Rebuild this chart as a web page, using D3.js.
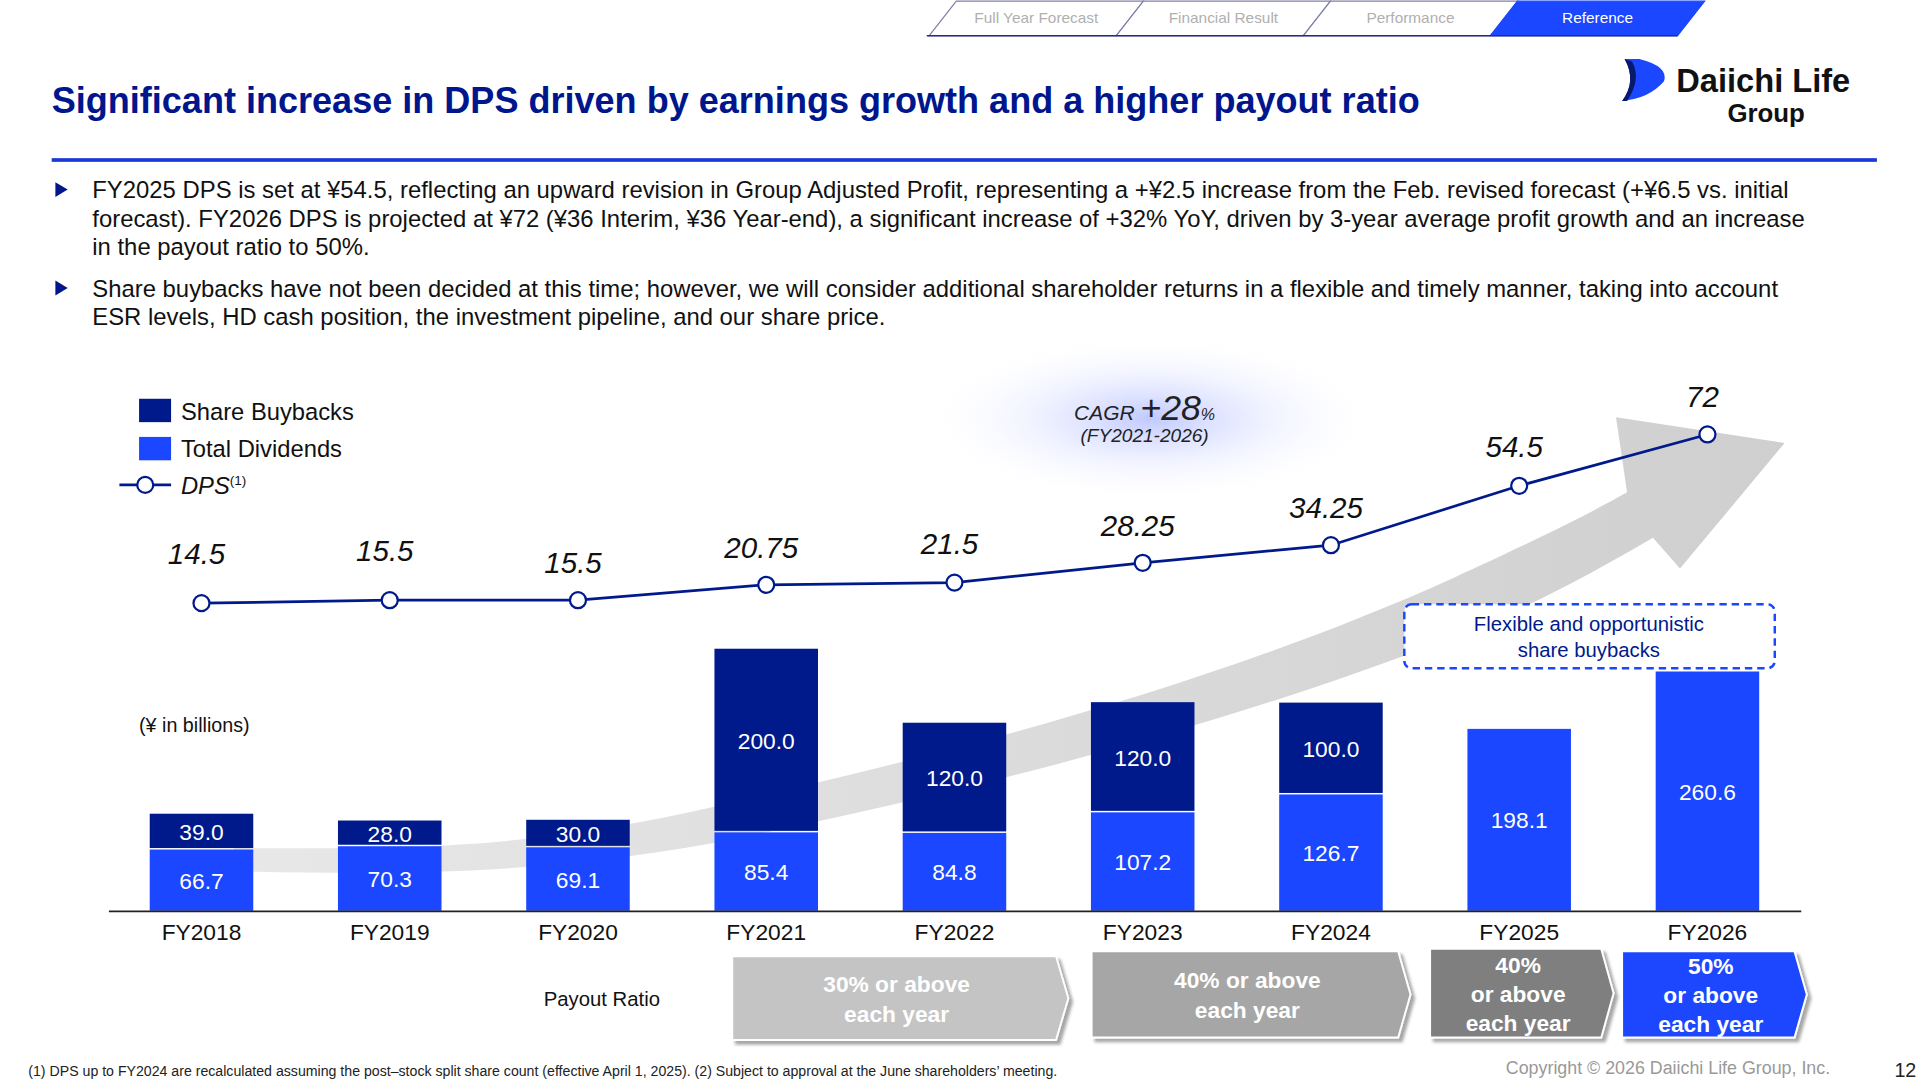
<!DOCTYPE html>
<html><head><meta charset="utf-8">
<script src="https://cdn.jsdelivr.net/npm/d3@7"></script>
<style>body{margin:0;background:#fff}svg{display:block;font-family:Arial,"Liberation Sans",sans-serif}</style>
</head><body>
<svg id="c" width="1920" height="1080"></svg>
<script>
const categories=["FY2018","FY2019","FY2020","FY2021","FY2022","FY2023","FY2024","FY2025","FY2026"];
const dividends=[66.7,70.3,69.1,85.4,84.8,107.2,126.7,198.1,260.6];
const buybacks=[39.0,28.0,30.0,200.0,120.0,120.0,100.0,0,0];
const dps=[14.5,15.5,15.5,20.75,21.5,28.25,34.25,54.5,72];
const dpsLabels=["14.5","15.5","15.5","20.75","21.5","28.25","34.25","54.5","72"];
const payout=[{t:["30% or above","each year"],c:"#c4c4c4"},{t:["40% or above","each year"],c:"#a6a6a6"},{t:["40%","or above","each year"],c:"#7f7f7f"},{t:["50%","or above","each year"],c:"#1a47ff"}];
const tabs=["Full Year Forecast","Financial Result","Performance","Reference"];

const NAVY="#001a8c",BLUE="#1a47ff",TITLE="#00168c";
const svg=d3.select("#c");
const defs=svg.append("defs");
const rg=defs.append("radialGradient").attr("id","glow");
rg.append("stop").attr("offset","0%").attr("stop-color","#b9c3ff").attr("stop-opacity",0.9);
rg.append("stop").attr("offset","100%").attr("stop-color","#ffffff").attr("stop-opacity",0);
const lg=defs.append("linearGradient").attr("id","arr").attr("x1","0").attr("x2","1");
lg.append("stop").attr("offset","0%").attr("stop-color","#e8e8e8");
lg.append("stop").attr("offset","100%").attr("stop-color","#cfcfcf");
const sh=defs.append("filter").attr("id","sh").attr("x","-10%").attr("y","-10%").attr("width","130%").attr("height","140%");
sh.append("feDropShadow").attr("dx",3).attr("dy",3).attr("stdDeviation",1.5).attr("flood-color","#000").attr("flood-opacity",0.35);

const g=svg.append("g").attr("transform",`scale(${1920/1560})`);

// nav tabs
const tw=152,tx0=755;
tabs.forEach((t,i)=>{
  const x=tx0+i*tw, last=i===tabs.length-1;
  g.append("path").attr("d",`M${x},29 L${x+22},1 L${x+tw+22},1 L${x+tw},29 Z`)
   .attr("fill",last?BLUE:"#fff").attr("stroke",last?BLUE:"#7f7fa8").attr("stroke-width",1);
  g.append("text").attr("x",x+tw/2+11).attr("y",19).attr("text-anchor","middle").attr("font-size",12.5)
   .attr("fill",last?"#fff":"#b0b0b0").text(t);
});
g.append("path").attr("d",`M${tx0-2},29 L${tx0+4*tw},29`).attr("stroke","#2a2a80").attr("stroke-width",1.2);

// title
g.append("text").attr("x",42).attr("y",92).attr("font-size",29.3).attr("font-weight","bold").attr("fill",TITLE)
 .text("Significant increase in DPS driven by earnings growth and a higher payout ratio");
g.append("rect").attr("x",42).attr("y",128.5).attr("width",1483).attr("height",3).attr("fill","#1a3ad8");

// logo
g.append("path").attr("d","M1320,48 L1332,48 Q1356,54 1352,66 Q1340,80 1318,82 Q1330,66 1320,48 Z").attr("fill",BLUE);
g.append("path").attr("d","M1320,48 Q1330,66 1318,82 L1322,82 Q1334,64 1326,50 Z").attr("fill","#0a1a6a");
g.append("text").attr("x",1362).attr("y",75).attr("font-size",26.5).attr("font-weight","bold").attr("fill","#111").text("Daiichi Life");
g.append("text").attr("x",1435).attr("y",99).attr("text-anchor","middle").attr("font-size",21).attr("font-weight","bold").attr("fill","#111").text("Group");

// bullets
const bul=[["FY2025 DPS is set at ¥54.5, reflecting an upward revision in Group Adjusted Profit, representing a +¥2.5 increase from the Feb. revised forecast (+¥6.5 vs. initial","forecast). FY2026 DPS is projected at ¥72 (¥36 Interim, ¥36 Year-end), a significant increase of +32% YoY, driven by 3-year average profit growth and an increase","in the payout ratio to 50%."],["Share buybacks have not been decided at this time; however, we will consider additional shareholder returns in a flexible and timely manner, taking into account","ESR levels, HD cash position, the investment pipeline, and our share price."]];
const by=[161,241];
bul.forEach((b,i)=>{
  g.append("path").attr("d",`M45,${by[i]-13} L55,${by[i]-7} L45,${by[i]-1} Z`).attr("fill",TITLE);
  b.forEach((l,j)=>g.append("text").attr("x",75).attr("y",by[i]+j*23.3).attr("font-size",19.4).attr("fill","#111").text(l));
});

// glow + CAGR
g.append("ellipse").attr("cx",935).attr("cy",340).attr("rx",185).attr("ry",68).attr("fill","url(#glow)");
const ct=g.append("text").attr("x",930).attr("y",341).attr("text-anchor","middle").attr("font-style","italic").attr("fill","#222");
ct.append("tspan").attr("font-size",17).text("CAGR ");
ct.append("tspan").attr("font-size",29).text("+28");
ct.append("tspan").attr("font-size",13).text("%");
g.append("text").attr("x",930).attr("y",359).attr("text-anchor","middle").attr("font-style","italic").attr("font-size",15.5).attr("fill","#222").text("(FY2021-2026)");

// scales
const x=d3.scaleBand().domain(categories).range([88,1463]).paddingInner(0.45).paddingOuter(0.22);
const y=d3.scaleLinear().domain([0,300]).range([740,740-223.8]);
const yd=d3.scaleLinear().domain([0,72]).range([524.6,353]);
const cx=c=>x(c)+x.bandwidth()/2;

// big arrow (decorative)
g.append("path").attr("d","M190,689 C330,690 420,690 560,660 C760,615 980,560 1180,470 C1250,438 1290,418 1322,400 L1313,339 L1450,360 L1365,462 L1343,437 C1300,462 1250,490 1200,510 C1000,590 780,645 580,685 C430,712 320,710 190,708 Z")
 .attr("fill","url(#arr)");

// bars
const data=categories.map((c,i)=>({c,d:dividends[i],b:buybacks[i]}));
const bw=x.bandwidth();
data.forEach(r=>{
  g.append("rect").attr("x",x(r.c)).attr("y",y(r.d)).attr("width",bw).attr("height",y(0)-y(r.d)).attr("fill",BLUE);
  g.append("text").attr("x",cx(r.c)).attr("y",(y(0)+y(r.d))/2+7).attr("text-anchor","middle").attr("font-size",18.5).attr("fill","#fff").text(r.d.toFixed(1));
  if(r.b>0){
    g.append("rect").attr("x",x(r.c)).attr("y",y(r.d+r.b)).attr("width",bw).attr("height",y(r.d)-y(r.d+r.b)-1.2).attr("fill",NAVY);
    g.append("text").attr("x",cx(r.c)).attr("y",(y(r.d)+y(r.d+r.b))/2+7).attr("text-anchor","middle").attr("font-size",18.5).attr("fill","#fff").text(r.b.toFixed(1));
  }
});
// axis
const ax=g.append("g").attr("transform","translate(0,740)").call(d3.axisBottom(x).tickSize(0).tickPadding(11));
ax.select(".domain").attr("stroke","#222").attr("stroke-width",1.3);
ax.selectAll("text").attr("font-size",18.5).attr("fill","#111").attr("font-family","Arial,'Liberation Sans',sans-serif");

// dashed box
g.append("rect").attr("x",1141).attr("y",491).attr("width",301).attr("height",52).attr("rx",6).attr("fill","#fff").attr("stroke",BLUE).attr("stroke-width",2).attr("stroke-dasharray","6,4");
g.append("text").attr("x",1291).attr("y",513).attr("text-anchor","middle").attr("font-size",16.5).attr("fill",NAVY).text("Flexible and opportunistic");
g.append("text").attr("x",1291).attr("y",534).attr("text-anchor","middle").attr("font-size",16.5).attr("fill",NAVY).text("share buybacks");

// DPS line
const line=d3.line().x((d,i)=>cx(categories[i])).y(d=>yd(d));
g.append("path").attr("d",line(dps)).attr("fill","none").attr("stroke",NAVY).attr("stroke-width",2.2);
g.selectAll(".pt").data(dps).join("circle").attr("cx",(d,i)=>cx(categories[i])).attr("cy",d=>yd(d)).attr("r",6.5).attr("fill","#fff").attr("stroke",NAVY).attr("stroke-width",1.8);
const lOff=[40,40,30,30,31,30,30,31,30];
g.selectAll(".dl").data(dps).join("text").attr("x",(d,i)=>cx(categories[i])-4).attr("y",(d,i)=>yd(d)-lOff[i]+8).attr("text-anchor","middle")
 .attr("font-size",24).attr("font-style","italic").attr("fill","#111").text((d,i)=>dpsLabels[i]);

// legend
g.append("rect").attr("x",113).attr("y",324).attr("width",26).attr("height",19).attr("fill",NAVY);
g.append("text").attr("x",147).attr("y",341).attr("font-size",19.3).attr("fill","#111").text("Share Buybacks");
g.append("rect").attr("x",113).attr("y",355).attr("width",26).attr("height",19).attr("fill",BLUE);
g.append("text").attr("x",147).attr("y",371).attr("font-size",19.3).attr("fill","#111").text("Total Dividends");
g.append("line").attr("x1",97).attr("x2",139).attr("y1",394).attr("y2",394).attr("stroke",NAVY).attr("stroke-width",2.2);
g.append("circle").attr("cx",118).attr("cy",394).attr("r",6.5).attr("fill","#fff").attr("stroke",NAVY).attr("stroke-width",1.8);
const dt=g.append("text").attr("x",147).attr("y",401).attr("font-size",19.3).attr("font-style","italic").attr("fill","#111");
dt.append("tspan").text("DPS");dt.append("tspan").attr("font-size",11).attr("font-style","normal").attr("dy",-7).text("(1)");
g.append("text").attr("x",113).attr("y",595).attr("font-size",16).attr("fill","#111").text("(¥ in billions)");

// payout ratio
g.append("text").attr("x",489).attr("y",817).attr("text-anchor","middle").attr("font-size",16.5).attr("fill","#111").text("Payout Ratio");
const pbox=[[595,777,868,845],[887,773,1146,843],[1162,771,1311,843],[1318,773,1468,843]];
payout.forEach((p,i)=>{
  const [x0,y0,x1,y1]=pbox[i], tip=10, ym=(y0+y1)/2;
  g.append("path").attr("d",`M${x0},${y0} L${x1-tip},${y0} L${x1},${ym} L${x1-tip},${y1} L${x0},${y1} Z`)
   .attr("fill",p.c).attr("stroke","#fff").attr("stroke-width",1.5).attr("filter","url(#sh)");
  const n=p.t.length, lh=n===3?23.5:24, cxp=(x0+x1-tip)/2+2;
  p.t.forEach((t,j)=>g.append("text").attr("x",cxp).attr("y",ym+(j-(n-1)/2)*lh+7).attr("text-anchor","middle")
    .attr("font-size",18.5).attr("font-weight","bold").attr("fill","#fff").text(t));
});

// footer
g.append("text").attr("x",23).attr("y",874).attr("font-size",11.5).attr("fill","#222")
 .text("(1) DPS up to FY2024 are recalculated assuming the post–stock split share count (effective April 1, 2025).  (2) Subject to approval at the June shareholders’ meeting.");
g.append("text").attr("x",1487).attr("y",873).attr("text-anchor","end").attr("font-size",14.5).attr("fill","#999").text("Copyright © 2026 Daiichi Life Group, Inc.");
g.append("text").attr("x",1557).attr("y",875).attr("text-anchor","end").attr("font-size",16).attr("fill","#222").text("12");
</script>
</body></html>
